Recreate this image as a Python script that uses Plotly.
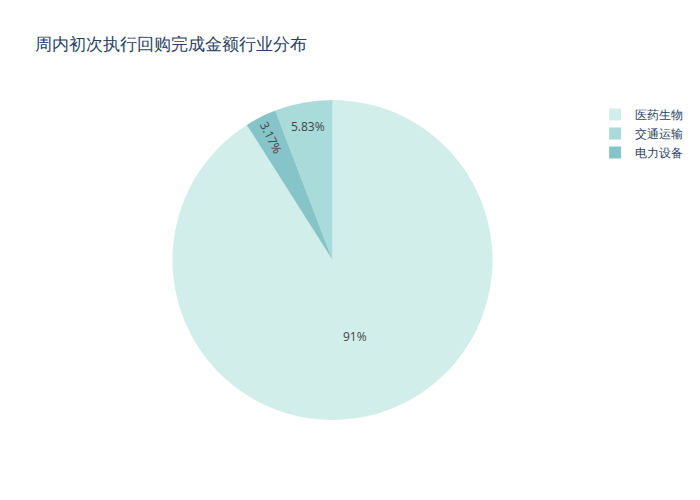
import plotly.graph_objects as go

# 行业分布数据
industries = ["医药生物", "交通运输", "电力设备"]
amounts = [91.0, 5.83, 3.17]
colors = ["rgb(209, 238, 234)", "rgb(168, 219, 217)", "rgb(133, 196, 201)"]

fig = go.Figure()
fig.add_trace(go.Pie(labels=industries,
                     values=amounts,
                     marker=dict(colors=colors),
                     textinfo="percent"))

fig.update_layout(title="周内初次执行回购完成金额行业分布",
                  width=700, height=500)

# page without body margin so the figure sits at the top-left corner
fig.write_html("out.html",
               config={"displayModeBar": False},
               post_script="document.body.style.margin='0';")
